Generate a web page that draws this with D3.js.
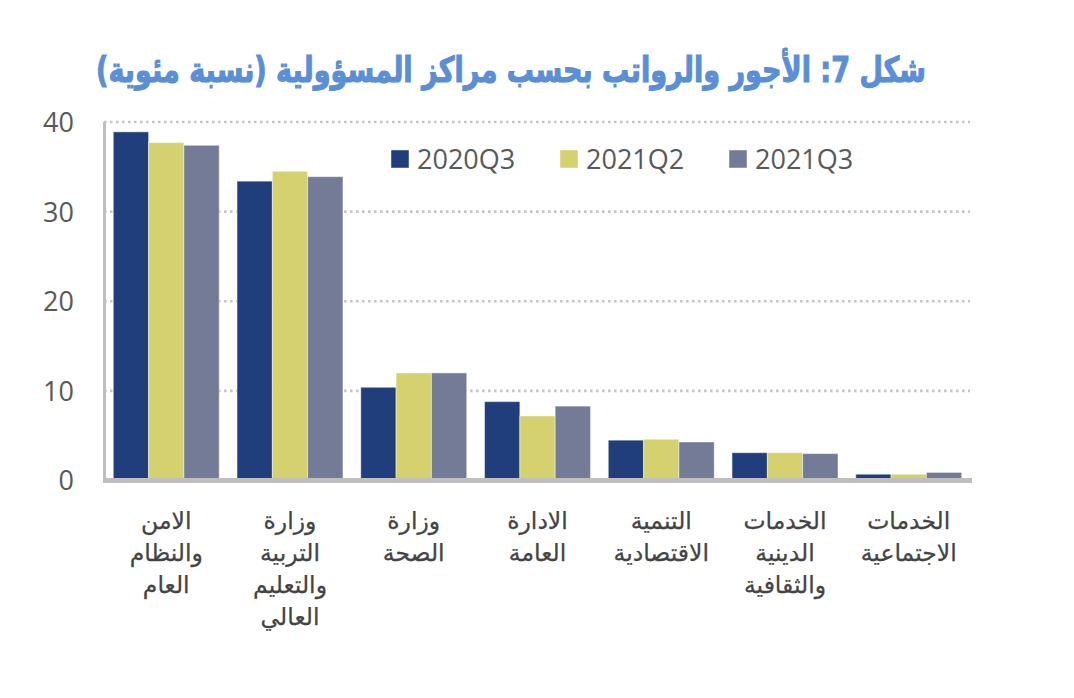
<!DOCTYPE html>
<html>
<head>
<meta charset="utf-8">
<script src="https://cdn.jsdelivr.net/npm/d3@7"></script>
<style>
  body { margin: 0; background: #fff; }
  svg { display: block; }
</style>
</head>
<body>
<div id="chart"></div>
<script>
// categories (each one split in lines the way the picture wraps them)
const categories = [
  ["الامن", "والنظام", "العام"],
  ["وزارة", "التربية", "والتعليم", "العالي"],
  ["وزارة", "الصحة"],
  ["الادارة", "العامة"],
  ["التنمية", "الاقتصادية"],
  ["الخدمات", "الدينية", "والثقافية"],
  ["الخدمات", "الاجتماعية"]
];
const seriesNames = ["2020Q3", "2021Q2", "2021Q3"];
const s2020Q3 = [38.9, 33.4, 10.4, 8.8, 4.5, 3.1, 0.7];
const s2021Q2 = [37.7, 34.5, 12.0, 7.2, 4.6, 3.1, 0.7];
const s2021Q3 = [37.4, 33.9, 12.0, 8.3, 4.3, 3.0, 0.9];
const yTicks = [0, 10, 20, 30, 40];
const title = "شكل 7: الأجور والرواتب بحسب مراكز المسؤولية (نسبة مئوية)";

const colors = ["#203e7b", "#d5d16e", "#737b96"];
const width = 1074, height = 698;

const data = categories.map((c, i) => ({
  idx: i,
  lines: c,
  values: [s2020Q3[i], s2021Q2[i], s2021Q3[i]]
}));

const svg = d3.select("#chart").append("svg")
  .attr("width", width)
  .attr("height", height);

// scales
const x0 = d3.scaleBand()
  .domain(data.map(d => d.idx))
  .range([104, 971])
  .paddingInner(0.144)
  .paddingOuter(0.075);

const x1 = d3.scaleBand()
  .domain(seriesNames)
  .range([0, x0.bandwidth()]);

const y = d3.scaleLinear().domain([0, 40]).range([480.5, 122]);

// dotted grid
svg.append("g")
  .selectAll("line")
  .data(yTicks.filter(t => t > 0))
  .join("line")
  .attr("x1", 104)
  .attr("x2", 970)
  .attr("y1", d => y(d))
  .attr("y2", d => y(d))
  .attr("stroke", "#c6c6c6")
  .attr("stroke-width", 2.6)
  .attr("stroke-dasharray", "2.6,3.4");

// y axis with labels only
const yAxis = svg.append("g")
  .attr("transform", "translate(74,0)")
  .call(d3.axisLeft(y).tickValues(yTicks).tickSize(0).tickPadding(0));
yAxis.select(".domain").remove();
yAxis.selectAll("text")
  .attr("font-family", "'Open Sans', sans-serif")
  .attr("font-size", 27)
  .attr("fill", "#595959")
  .attr("dy", "0.35em");

// bars
const groups = svg.append("g")
  .selectAll("g")
  .data(data)
  .join("g")
  .attr("transform", d => `translate(${x0(d.idx)},0)`);

groups.selectAll("rect")
  .data(d => d.values.map((v, j) => ({ key: seriesNames[j], value: v, j })))
  .join("rect")
  .attr("x", d => x1(d.key))
  .attr("width", x1.bandwidth())
  .attr("y", d => y(d.value))
  .attr("height", d => y(0) - y(d.value))
  .attr("fill", d => colors[d.j])
  .attr("stroke", "#ffffff")
  .attr("stroke-opacity", 0.45)
  .attr("stroke-width", 1);

// axis lines
svg.append("line")
  .attr("x1", 104.5).attr("x2", 104.5)
  .attr("y1", y(40)).attr("y2", y(0))
  .attr("stroke", "#bfbfbf")
  .attr("stroke-width", 3);

svg.append("line")
  .attr("x1", 103).attr("x2", 972)
  .attr("y1", y(0)).attr("y2", y(0))
  .attr("stroke", "#bfbfbf")
  .attr("stroke-width", 5);

// category labels
const labels = svg.append("g")
  .selectAll("text")
  .data(data)
  .join("text")
  .attr("x", d => x0(d.idx) + x0.bandwidth() / 2)
  .attr("y", 529)
  .attr("text-anchor", "middle")
  .attr("direction", "rtl")
  .attr("font-family", "'DejaVu Sans', sans-serif")
  .attr("font-size", 23.5)
  .attr("fill", "#444444")
  .attr("stroke", "#444444")
  .attr("stroke-width", 0.25);

labels.selectAll("tspan")
  .data(d => d.lines.map((l, k) => ({ l, k, cx: x0(d.idx) + x0.bandwidth() / 2 })))
  .join("tspan")
  .attr("x", d => d.cx)
  .attr("y", d => 529 + d.k * 32)
  .text(d => d.l);

// legend
const legend = svg.append("g")
  .selectAll("g")
  .data(seriesNames)
  .join("g")
  .attr("transform", (d, i) => `translate(${391 + i * 169},150)`);

legend.append("rect")
  .attr("width", 18)
  .attr("height", 18)
  .attr("fill", (d, i) => colors[i])
  .attr("stroke", "#ffffff")
  .attr("stroke-opacity", 0.45);

legend.append("text")
  .attr("x", 26)
  .attr("y", 18.5)
  .attr("font-family", "'Open Sans', sans-serif")
  .attr("font-size", 27)
  .attr("fill", "#595959")
  .text(d => d);

// title, sized to the width it takes in the picture, a bit taller like the original face
const t = svg.append("text")
  .attr("x", 0)
  .attr("y", 0)
  .attr("text-anchor", "middle")
  .attr("direction", "rtl")
  .attr("font-family", "'DejaVu Sans', sans-serif")
  .attr("font-weight", "bold")
  .attr("font-size", 30)
  .attr("fill", "#5b8fd5")
  .attr("stroke", "#5b8fd5")
  .attr("stroke-width", 0.9)
  .attr("transform", "translate(511,82) scale(1,1.3)")
  .text(title);
const len = t.node().getComputedTextLength();
t.attr("font-size", 30 * 830 / len);
</script>
</body>
</html>
